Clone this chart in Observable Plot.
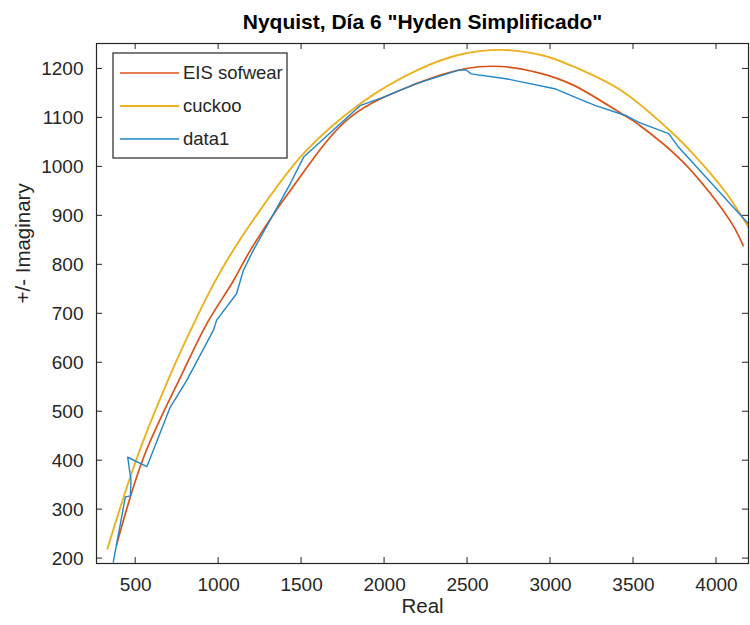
<!DOCTYPE html>
<html><head><meta charset="utf-8">
<script src="https://cdn.jsdelivr.net/npm/d3@7"></script>
<script src="https://cdn.jsdelivr.net/npm/@observablehq/plot@0.6"></script>
<style>
body{margin:0;background:#fff;}
#chart svg{font-family:"Liberation Sans",Arial,sans-serif;}
</style>
</head><body><div id="chart"></div>
<script>
// Series: EIS sofwear (red)
const eisReal = [385, 548, 789, 929, 1090, 1190, 1432, 1792, 2192, 2492, 2700, 2940, 3131, 3431, 3532, 3790, 3960, 4104, 4161];
const eisImag = [228, 407, 584, 680, 768, 829, 952, 1101, 1170, 1201, 1205, 1191, 1168, 1108, 1086, 1013, 947, 878, 839];
// Series: cuckoo (yellow)
const cuckooReal = [330, 508, 729, 869, 970, 1088, 1193, 1511, 1853, 2194, 2450, 2700, 2950, 3131, 3430, 3754, 3903, 4064, 4192];
const cuckooImag = [220, 406, 591, 693, 761, 830, 884, 1027, 1129, 1197, 1229, 1239, 1228, 1206, 1155, 1063, 1010, 944, 877];
// Series: data1 (blue)
const data1Real = [365, 438, 468, 472, 452, 568, 708, 808, 968, 988, 1108, 1148, 1208, 1432, 1512, 1852, 1990, 2192, 2452, 2492, 2522, 2732, 3032, 3172, 3272, 3452, 3532, 3712, 3772, 4190];
const data1Imag = [193, 326, 328, 360, 407, 388, 509, 564, 666, 687, 741, 788, 829, 966, 1020, 1125, 1142, 1170, 1198, 1198, 1190, 1180, 1159, 1139, 1125, 1105, 1091, 1068, 1040, 885];

const seriesNames = ["EIS sofwear", "cuckoo", "data1"];
const seriesColors = ["#D95319", "#EDB120", "#1f86c9"];
const xTicks = [500, 1000, 1500, 2000, 2500, 3000, 3500, 4000];
const yTicks = [200, 300, 400, 500, 600, 700, 800, 900, 1000, 1100, 1200];
const xDomain = [264, 4193];
const yDomain = [190, 1252];
const titleText = 'Nyquist, Día 6 "Hyden Simplificado"';
const xLabel = "Real";
const yLabel = "+/- Imaginary";

const toRows = (xs, ys, name) => xs.map((x, i) => ({x, y: ys[i], name}));
const eisRows = toRows(eisReal, eisImag, seriesNames[0]);
const cuckooRows = toRows(cuckooReal, cuckooImag, seriesNames[1]);
const dataRows = toRows(data1Real, data1Imag, seriesNames[2]);

const ink = "#262626";
const fmt = d => String(d);
const chart = Plot.plot({
  width: 750, height: 625,
  marginLeft: 96, marginRight: 2, marginTop: 43, marginBottom: 62,
  style: {color: ink, background: "#fff", fontFamily: '"Liberation Sans", Arial, sans-serif'},
  x: {domain: xDomain},
  y: {domain: yDomain},
  marks: [
    Plot.line(eisRows, {x: "x", y: "y", stroke: seriesColors[0], strokeWidth: 1.7, curve: "catmull-rom", clip: true}),
    Plot.line(cuckooRows, {x: "x", y: "y", stroke: seriesColors[1], strokeWidth: 1.9, curve: "catmull-rom", clip: true}),
    Plot.line(dataRows, {x: "x", y: "y", stroke: seriesColors[2], strokeWidth: 1.4, clip: true}),
    Plot.axisX(xTicks, {anchor: "bottom", tickSize: 0, tickPadding: 14, fontSize: 19, label: null, tickFormat: fmt, fill: ink}),
    Plot.axisY(yTicks, {anchor: "left", tickSize: 0, tickPadding: 13, fontSize: 19, label: null, tickFormat: fmt, fill: ink}),
    Plot.frame({stroke: ink, strokeWidth: 1.2}),
    Plot.text([titleText], {text: d => d, frameAnchor: "top", dy: -29, fontSize: 21, fontWeight: "bold", fill: "#000"}),
    Plot.text([xLabel], {text: d => d, frameAnchor: "bottom", dy: 49, fontSize: 20.5, fill: ink}),
    Plot.text([yLabel], {text: d => d, frameAnchor: "left", dx: -73, rotate: -90, fontSize: 20.5, fill: ink})
  ]
});
document.getElementById("chart").appendChild(chart);

// Inward tick marks on all four sides, placed with the chart's own scales
const sx = chart.scale("x"), sy = chart.scale("y");
const svg = d3.select(chart);
const L = 96, R = 748, T = 43, B = 563, tl = 6;
const tg = svg.append("g").attr("stroke", ink).attr("stroke-width", 1);
xTicks.forEach(v => {
  const px = sx.apply(v);
  tg.append("line").attr("x1", px).attr("x2", px).attr("y1", B).attr("y2", B - tl);
  tg.append("line").attr("x1", px).attr("x2", px).attr("y1", T).attr("y2", T + tl);
});
yTicks.forEach(v => {
  const py = sy.apply(v);
  tg.append("line").attr("x1", L).attr("x2", L + tl).attr("y1", py).attr("y2", py);
  tg.append("line").attr("x1", R).attr("x2", R - tl).attr("y1", py).attr("y2", py);
});

// Legend box (MATLAB-style, inside the axes, top-left)
const lg = svg.append("g").attr("transform", "translate(113,53)");
lg.append("rect").attr("width", 174).attr("height", 105).attr("fill", "#fff").attr("stroke", ink).attr("stroke-width", 1.2);
seriesNames.forEach((name, i) => {
  const yy = 20 + i * 33;
  lg.append("line").attr("x1", 7).attr("x2", 66).attr("y1", yy).attr("y2", yy)
    .attr("stroke", seriesColors[i]).attr("stroke-width", i === 1 ? 1.9 : 1.7);
  lg.append("text").attr("x", 70).attr("y", yy).attr("dy", "0.35em").attr("text-anchor", "start")
    .attr("font-size", 18.5).attr("fill", ink).text(name);
});
</script>
</body></html>
